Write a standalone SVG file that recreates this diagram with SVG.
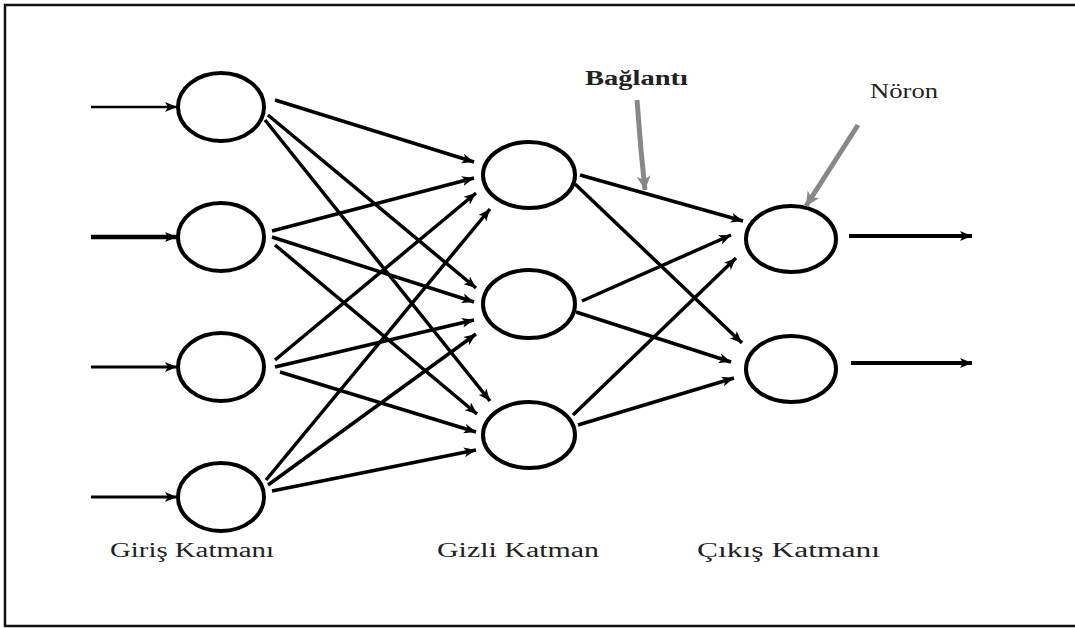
<svg xmlns="http://www.w3.org/2000/svg" width="1075" height="628" viewBox="0 0 1075 628">
<style>
.node ellipse{fill:none;stroke:#000;stroke-width:4}
.conn line{stroke:#000;stroke-width:3.5;marker-end:url(#ah)}
.lbl{font-family:"Liberation Serif",serif;font-size:20px;fill:#222}
.gray{stroke:#888;stroke-width:5;fill:none}
</style>
<defs>
<marker id="ah" markerUnits="userSpaceOnUse" markerWidth="14" markerHeight="12" refX="12" refY="6" orient="auto">
<path d="M0,1 L12,6 L0,11 L3,6 Z" fill="#000"/>
</marker>
<marker id="gah" markerUnits="userSpaceOnUse" markerWidth="16" markerHeight="16" refX="14" refY="8" orient="auto">
<path d="M0,1 L14,8 L0,15 L4,8 Z" fill="#888"/>
</marker>
</defs>
<rect width="1075" height="628" fill="#fff"/>
<g id="frame" stroke="#111" stroke-width="2.5" fill="none">
<path d="M5,627 L5,5 L1075,5"/>
<path d="M4,626 L1075,626"/>
</g>
<g id="in1" class="node"><ellipse cx="221" cy="107" rx="43" ry="34"/></g>
<g id="in2" class="node"><ellipse cx="221" cy="237" rx="43" ry="34"/></g>
<g id="in3" class="node"><ellipse cx="221" cy="367" rx="43" ry="34"/></g>
<g id="in4" class="node"><ellipse cx="221" cy="497" rx="43" ry="34"/></g>
<g id="h1" class="node"><ellipse cx="529" cy="175" rx="46" ry="33"/></g>
<g id="h2" class="node"><ellipse cx="529" cy="304" rx="46" ry="34"/></g>
<g id="h3" class="node"><ellipse cx="529" cy="435" rx="46" ry="33"/></g>
<g id="o1" class="node"><ellipse cx="791" cy="239" rx="45" ry="33"/></g>
<g id="o2" class="node"><ellipse cx="791" cy="369" rx="45" ry="33"/></g>
<g id="connectors" class="conn">
<line x1="91" y1="107" x2="177" y2="107" style="stroke-width:2.5"/>
<line x1="91" y1="237" x2="177" y2="237" style="stroke-width:4.5"/>
<line x1="91" y1="367" x2="177" y2="367" style="stroke-width:3"/>
<line x1="91" y1="497" x2="177" y2="497" style="stroke-width:3"/>
<line x1="275" y1="100" x2="474" y2="162"/>
<line x1="268" y1="115" x2="476" y2="288"/>
<line x1="265" y1="120" x2="490" y2="401"/>
<line x1="272" y1="231" x2="474" y2="178"/>
<line x1="272" y1="237" x2="474" y2="302"/>
<line x1="275" y1="245" x2="477" y2="414"/>
<line x1="275" y1="360" x2="476" y2="193"/>
<line x1="275" y1="367" x2="474" y2="320"/>
<line x1="280" y1="372" x2="476" y2="432"/>
<line x1="266" y1="480" x2="490" y2="209"/>
<line x1="268" y1="485" x2="476" y2="334"/>
<line x1="272" y1="491" x2="476" y2="450"/>
<line x1="580" y1="175" x2="743" y2="221"/>
<line x1="575" y1="184" x2="742" y2="343"/>
<line x1="582" y1="301" x2="731" y2="235"/>
<line x1="576" y1="312" x2="731" y2="362"/>
<line x1="573" y1="415" x2="736" y2="258"/>
<line x1="578" y1="425" x2="734" y2="378"/>
<line x1="849" y1="236" x2="972" y2="236" style="stroke-width:4"/>
<line x1="851" y1="363" x2="972" y2="363" style="stroke-width:4"/>
</g>
<g id="callouts">
<path class="gray" d="M637,100 L641,150 L645,190" marker-end="url(#gah)"/>
<path class="gray" d="M858,125 L806,206" marker-end="url(#gah)"/>
</g>
<g id="labels">
<text x="585" y="85" class="lbl" style="font-weight:bold;font-size:20px" textLength="103" lengthAdjust="spacingAndGlyphs">Bağlantı</text>
<text x="870" y="98" class="lbl" style="font-size:22px" textLength="68" lengthAdjust="spacingAndGlyphs">Nöron</text>
<text x="110" y="557" class="lbl" textLength="164" lengthAdjust="spacingAndGlyphs">Giriş Katmanı</text>
<text x="437" y="557" class="lbl" textLength="162" lengthAdjust="spacingAndGlyphs">Gizli Katman</text>
<text x="697" y="557" class="lbl" textLength="183" lengthAdjust="spacingAndGlyphs">Çıkış Katmanı</text>
</g>
</svg>
